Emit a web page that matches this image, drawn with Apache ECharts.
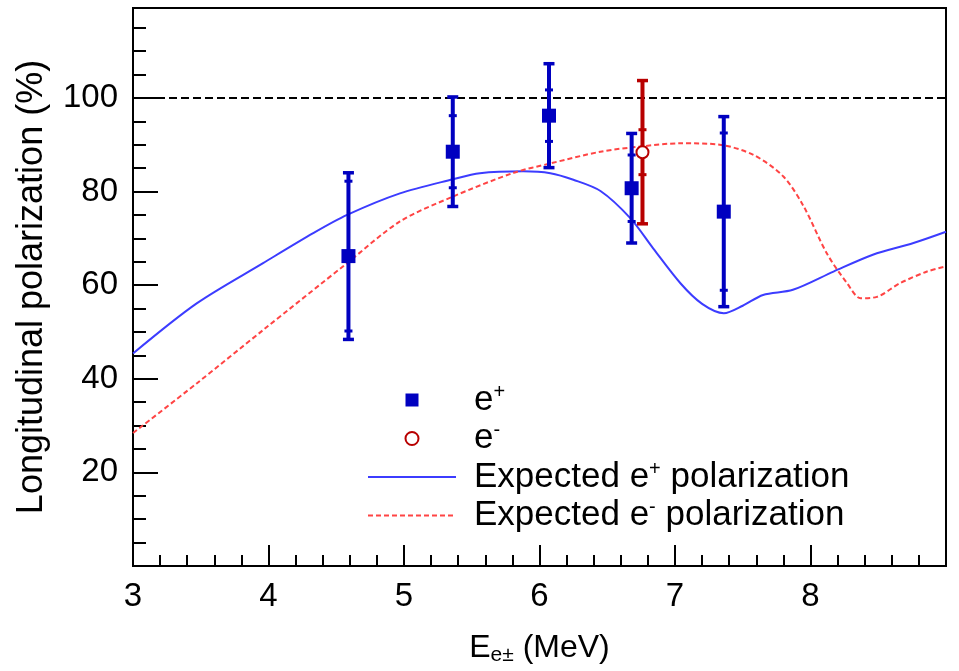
<!DOCTYPE html>
<html><head><meta charset="utf-8">
<script src="https://cdn.jsdelivr.net/npm/echarts@6/dist/echarts.min.js"></script>
<style>html,body{margin:0;padding:0;background:#fff;} #c{width:959px;height:671px;}</style>
</head><body><div id="c"></div>
<script>
// Measured e+ polarization (value, total error, statistical error)
const posX = [4.59, 5.36, 6.07, 6.68, 7.36];
const posY = [66.2, 88.5, 96.2, 80.7, 75.7];
const posErrTot = [17.8, 11.7, 11.1, 11.7, 20.3];
const posErrStat = [16.0, 7.7, 5.5, 7.1, 16.8];
// Measured e- polarization
const eleX = [6.76];
const eleY = [88.4];
const eleErrTot = [15.3];
const eleErrStat = [4.8];
// Expected e+ polarization curve
const expPosX = [3.0, 3.47, 3.96, 4.33, 4.58, 4.97, 5.36, 5.56, 5.88, 6.08, 6.25, 6.45, 6.67, 6.84, 7.04, 7.2, 7.36, 7.5, 7.65, 7.87, 8.17, 8.46, 8.76, 9.0];
const expPosY = [45.4, 56.1, 64.7, 71.1, 75.0, 79.6, 82.6, 83.9, 84.3, 83.9, 82.5, 80.1, 74.3, 67.8, 60.4, 56.0, 54.0, 55.6, 57.9, 59.0, 62.9, 66.5, 69.0, 71.4];
// Expected e- polarization curve
const expEleX = [3.0, 3.47, 3.96, 4.58, 4.97, 5.36, 5.81, 6.08, 6.45, 6.74, 7.04, 7.33, 7.58, 7.80, 7.95, 8.12, 8.27, 8.37, 8.49, 8.66, 8.86, 9.0];
const expEleY = [28.4, 39.0, 50.4, 64.7, 73.6, 78.9, 84.0, 86.0, 88.5, 89.6, 90.3, 90.0, 87.8, 83.2, 76.8, 66.8, 60.4, 57.2, 57.5, 60.4, 62.9, 64.0];
// 100% reference line
const refX = [3, 9];
const refY = [100, 100];
// Axis tick labels
const xTickLabels = [3, 4, 5, 6, 7, 8];
const yTickLabels = [20, 40, 60, 80, 100];

const FONT = '"Liberation Sans", Arial, Helvetica, sans-serif';
const BLUE = '#0000c0';
const RED = '#b80000';

const zip = (a, b) => a.map((v, i) => [v, b[i]]);
const zip4 = (a, b, c, d) => a.map((v, i) => [v, b[i], c[i], d[i]]);

function errRender(color) {
  return function (params, api) {
    const x = api.value(0), y = api.value(1), t = api.value(2), s = api.value(3);
    const pT = api.coord([x, y + t]);
    const pB = api.coord([x, y - t]);
    const sT = api.coord([x, y + s]);
    const sB = api.coord([x, y - s]);
    const ln = (x1, y1, x2, y2, w) => ({ type: 'line', shape: { x1, y1, x2, y2 }, style: { stroke: color, lineWidth: w } });
    const c = 5.5, ci = 4;
    return {
      type: 'group',
      children: [
        ln(pT[0], pT[1], pB[0], pB[1], 4),
        ln(pT[0] - c, pT[1], pT[0] + c, pT[1], 3.5),
        ln(pB[0] - c, pB[1], pB[0] + c, pB[1], 3.5),
        ln(sT[0] - ci, sT[1], sT[0] + ci, sT[1], 3),
        ln(sB[0] - ci, sB[1], sB[0] + ci, sB[1], 3)
      ]
    };
  };
}

const legendNames = {
  'e+': '{t|e}{sup|+}',
  'e-': '{t|e}{sup|-}',
  'Expected e+ polarization': '{t|Expected e}{sup|+}{t| polarization}',
  'Expected e- polarization': '{t|Expected e}{sup|-}{t| polarization}'
};

const chart = echarts.init(document.getElementById('c'), null, { renderer: 'canvas' });
chart.setOption({
  animation: false,
  backgroundColor: '#fff',
  grid: { left: 133, right: 13, top: 8, bottom: 104.5, show: true, borderColor: '#000', borderWidth: 2, backgroundColor: 'transparent' },
  legend: {
    left: 362, top: 377, orient: 'vertical', itemWidth: 88, itemHeight: 13, itemGap: 3,
    symbolKeepAspect: true,
    data: [
      { name: 'e+', icon: 'path://M0,0L10,0L10,10L0,10Z', itemStyle: { color: BLUE, opacity: 1 } },
      { name: 'e-', icon: 'emptyCircle' },
      { name: 'Expected e+ polarization', itemStyle: { opacity: 0 } },
      { name: 'Expected e- polarization', itemStyle: { opacity: 0 } }
    ],
    formatter: n => legendNames[n],
    textStyle: {
      padding: [0, 0, 0, 13],
      rich: {
        t: { fontFamily: FONT, fontSize: 35, color: '#000', lineHeight: 36 },
        sup: { fontFamily: FONT, fontSize: 20, color: '#000', lineHeight: 22, verticalAlign: 'top' }
      }
    },
    selectedMode: false
  },
  xAxis: {
    type: 'value', min: 3, max: 9, interval: 1,
    axisLine: { show: true, lineStyle: { color: '#000', width: 2 } },
    axisTick: { show: true, inside: true, length: 21, lineStyle: { color: '#000', width: 2 } },
    minorTick: { show: true, splitNumber: 5, length: 11, lineStyle: { color: '#000', width: 2 } },
    splitLine: { show: false },
    axisLabel: {
      fontFamily: FONT, fontSize: 33, color: '#000', margin: 14,
      formatter: v => (xTickLabels.indexOf(v) >= 0 ? String(v) : '')
    },
    name: '{t|E}{sub|e±}{t| (MeV)}',
    nameLocation: 'middle', nameGap: 64,
    nameTextStyle: {
      rich: {
        t: { fontFamily: FONT, fontSize: 32, color: '#000', lineHeight: 36 },
        sub: { fontFamily: FONT, fontSize: 21, color: '#000', lineHeight: 22, verticalAlign: 'bottom' }
      }
    }
  },
  yAxis: {
    type: 'value', min: 0, max: 119.2, interval: 20,
    axisLine: { show: true, lineStyle: { color: '#000', width: 2 } },
    axisTick: { show: true, inside: true, length: 25, lineStyle: { color: '#000', width: 2 } },
    minorTick: { show: true, splitNumber: 4, length: 13, lineStyle: { color: '#000', width: 2 } },
    splitLine: { show: false },
    axisLabel: {
      fontFamily: FONT, fontSize: 33, color: '#000', margin: 15,
      formatter: v => (yTickLabels.indexOf(Math.round(v * 100) / 100) >= 0 ? String(v) : '')
    },
    name: 'Longitudinal polarization (%)',
    nameLocation: 'middle', nameGap: 83,
    nameTextStyle: { fontFamily: FONT, fontSize: 36, color: '#000' }
  },
  series: [
    {
      name: 'ref', type: 'line', data: zip(refX, refY), symbol: 'none', silent: true, z: 1,
      lineStyle: { color: '#000', width: 2, type: [8, 4] }
    },
    {
      name: 'Expected e+ polarization', type: 'line', data: zip(expPosX, expPosY), symbol: 'none', smooth: 0.3, z: 2,
      lineStyle: { color: '#3c3cff', width: 2 }, itemStyle: { color: '#3c3cff' }
    },
    {
      name: 'Expected e- polarization', type: 'line', data: zip(expEleX, expEleY), symbol: 'none', smooth: 0.3, z: 2,
      lineStyle: { color: '#ff4444', width: 2, type: [5, 3] }, itemStyle: { color: '#ff4444' }
    },
    {
      name: 'posErr', type: 'custom', data: zip4(posX, posY, posErrTot, posErrStat), renderItem: errRender(BLUE),
      encode: { x: 0, y: 1 }, z: 3, silent: true
    },
    {
      name: 'eleErr', type: 'custom', data: zip4(eleX, eleY, eleErrTot, eleErrStat), renderItem: errRender(RED),
      encode: { x: 0, y: 1 }, z: 3, silent: true
    },
    {
      name: 'e+', type: 'scatter', data: zip(posX, posY), symbol: 'rect', symbolSize: 14, z: 4,
      itemStyle: { color: BLUE, opacity: 1 }
    },
    {
      name: 'e-', type: 'scatter', data: zip(eleX, eleY), symbol: 'emptyCircle', symbolSize: 12, z: 4,
      itemStyle: { color: RED, borderColor: RED, borderWidth: 2, opacity: 1 }
    }
  ]
});
</script>
</body></html>
